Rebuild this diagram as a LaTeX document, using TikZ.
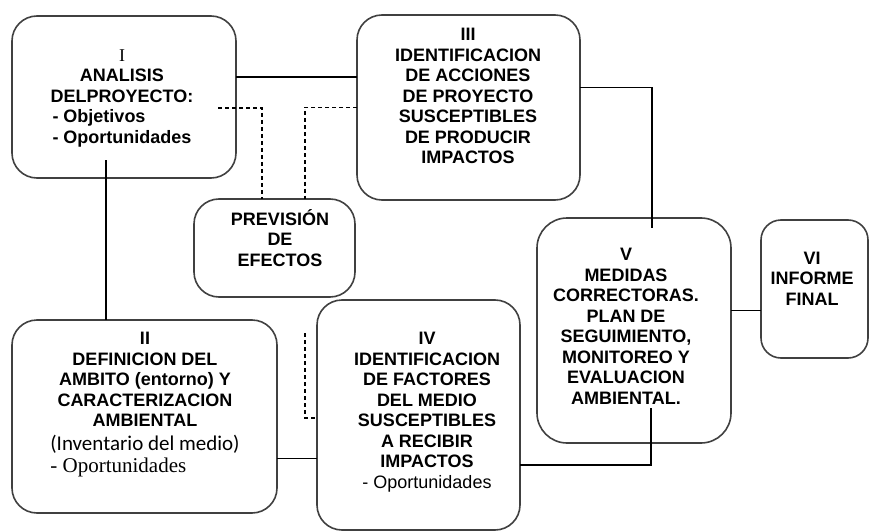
\documentclass[tikz,border=0pt]{standalone}
\usepackage{fontspec}
\setmainfont{Liberation Sans}
\newfontfamily\serifa{Liberation Serif}
\newfontfamily\calib{Carlito}
\begin{document}
\begin{tikzpicture}[x=1pt,y=-1pt,line width=1.1pt,
	caja/.style = {draw=black!75, line width=1.6pt, rounded corners=25pt, inner sep=0pt, outer sep=0pt},
	texto/.style = {align=center, inner sep=0pt, font=\bfseries\fontsize{18}{20.5}\selectfont},
	guion/.style = {dash pattern=on 4pt off 3pt}]
	
	\useasboundingbox (0,0) rectangle (870,532);
	
	% cajas
	\node[caja, minimum width=224pt, minimum height=162pt] (1) at (124,97) {};
	\node[caja, minimum width=265pt, minimum height=193pt] (2) at (144.5,416.5) {};
	\node[caja, minimum width=223pt, minimum height=185pt] (3) at (468.5,107.5) {};
	\node[caja, minimum width=161pt, minimum height=98pt] (p) at (274.5,248) {};
	\node[caja, minimum width=203pt, minimum height=230pt] (4) at (418.5,415) {};
	\node[caja, minimum width=194pt, minimum height=225pt, rounded corners=30pt] (5) at (634,330.5) {};
	\node[caja, minimum width=107pt, minimum height=138pt, rounded corners=20pt] (6) at (814.5,289) {};
	
	% textos
	\node[texto] (t1) at (122,98) {{\serifa\mdseries I}\\ANALISIS\\DELPROYECTO:\\
		\rlap{- Objetivos}\phantom{- Oportunidades}\\- Oportunidades};
	\node[texto] (t2) at (145,405) {II\\DEFINICION DEL\\AMBITO (entorno) Y\\CARACTERIZACION\\AMBIENTAL\\[3pt]
		{\calib\mdseries\fontsize{21}{24}\selectfont (Inventario del medio)}\\[2pt]
		\rlap{\serifa\mdseries\fontsize{21}{24}\selectfont - Oportunidades}\phantom{\calib\mdseries\fontsize{21}{24}\selectfont (Inventario del medio)}};
	\node[texto] (t3) at (468,96) {III\\IDENTIFICACION\\DE ACCIONES\\DE PROYECTO\\SUSCEPTIBLES\\DE PRODUCIR\\IMPACTOS};
	\node[texto] (tp) at (280,238) {PREVISIÓN\\DE\\EFECTOS};
	\node[texto] (t4) at (427,412) {IV\\IDENTIFICACION\\DE FACTORES\\DEL MEDIO\\SUSCEPTIBLES\\A RECIBIR\\IMPACTOS\\
		{\mdseries - Oportunidades}};
	\node[texto] (t5) at (626,326.5) {V\\MEDIDAS\\CORRECTORAS.\\PLAN DE\\SEGUIMIENTO,\\MONITOREO Y\\EVALUACION\\AMBIENTAL.};
	\node[texto] (t6) at (812,278.5) {VI\\INFORME\\FINAL};
	
	\coordinate (d1) at (218,108);
	\coordinate (d4) at (305,333);
	
	% conexiones
	\draw ([yshift=20pt]1.east) -- ([yshift=20pt]1.east -| 3.west);
	\draw ([xshift=-18pt,yshift=18pt]1.south) -- ([xshift=-18pt]1.south |- 2.north);
	\draw ([yshift=20pt]3.east) -| ([xshift=18pt,yshift=-10pt]5.north);
	\draw ([yshift=20pt]5.east) -- ([yshift=20pt]5.east -| 6.west);
	\draw ([yshift=-42pt]2.east) -- ([yshift=-42pt]2.east -| 4.west);
	\draw ([yshift=-50pt]4.east) -| ([xshift=17pt,yshift=35pt]5.south);
	\draw[guion] (d1) -| ([xshift=-12.5pt]p.north);
	\draw[guion] (3.west) -| ([xshift=30.5pt]p.north);
	\draw[guion] (d4) |- ([yshift=-3pt]4.west);
	\end{tikzpicture}
\end{document}
